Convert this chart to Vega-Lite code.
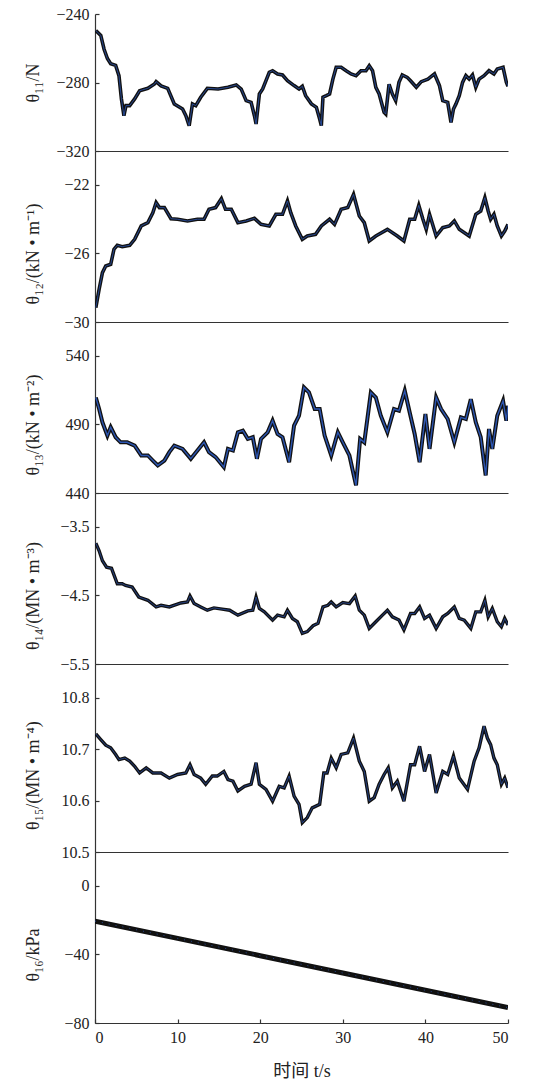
{
  "$schema": "https://vega.github.io/schema/vega-lite/v6.json",
  "padding": {"left": 24, "top": 6, "right": 5, "bottom": 0},
  "spacing": 0,
  "bounds": "flush",
  "config": {
    "font": "Liberation Serif",
    "view": {"stroke": null},
    "axis": {
      "labelFont": "Liberation Serif",
      "titleFont": "Liberation Serif, Noto Sans CJK SC",
      "labelFontSize": 16,
      "titleFontSize": 18,
      "titleFontWeight": "normal",
      "labelColor": "#222",
      "titleColor": "#222",
      "domainColor": "#333",
      "tickColor": "#333",
      "domainWidth": 1.2,
      "tickWidth": 1.2,
      "grid": false
    }
  },
  "datasets": {
    "p1": [{"t":0.1,"v":-249.7},{"t":0.7,"v":-252.5},{"t":1.1,"v":-260.6},{"t":1.5,"v":-266},{"t":1.9,"v":-269},{"t":2.5,"v":-270},{"t":2.9,"v":-276},{"t":3.2,"v":-289.6},{"t":3.5,"v":-299.4},{"t":3.75,"v":-293.5},{"t":4.2,"v":-293.5},{"t":4.8,"v":-289.6},{"t":5.4,"v":-284.8},{"t":6.4,"v":-283.4},{"t":7.2,"v":-280.9},{"t":7.4,"v":-279.5},{"t":8,"v":-282},{"t":8.8,"v":-283.4},{"t":9.6,"v":-292.5},{"t":10.6,"v":-295.5},{"t":11,"v":-299.4},{"t":11.4,"v":-305.2},{"t":11.8,"v":-292.5},{"t":12.2,"v":-293.5},{"t":12.8,"v":-288.6},{"t":13.6,"v":-283.4},{"t":14.9,"v":-283.8},{"t":16.1,"v":-282.8},{"t":17.1,"v":-281.4},{"t":17.7,"v":-283.8},{"t":18.3,"v":-290.6},{"t":18.9,"v":-291.6},{"t":19.3,"v":-299.4},{"t":19.5,"v":-304.2},{"t":19.9,"v":-286.7},{"t":20.3,"v":-283.8},{"t":20.7,"v":-278.9},{"t":21.1,"v":-274},{"t":21.5,"v":-273.1},{"t":22.1,"v":-275},{"t":22.7,"v":-275.6},{"t":23.3,"v":-278.9},{"t":24.1,"v":-281.8},{"t":24.7,"v":-283.8},{"t":25.1,"v":-282.2},{"t":25.5,"v":-287.7},{"t":26.2,"v":-292.5},{"t":26.8,"v":-294.5},{"t":27.2,"v":-301.3},{"t":27.4,"v":-305.2},{"t":27.6,"v":-288.6},{"t":28,"v":-287.7},{"t":28.4,"v":-286.7},{"t":28.8,"v":-278},{"t":29.2,"v":-271.1},{"t":29.8,"v":-271.1},{"t":30.4,"v":-273.1},{"t":31,"v":-275},{"t":31.6,"v":-276},{"t":32.2,"v":-273.1},{"t":32.8,"v":-273.1},{"t":33.2,"v":-270.2},{"t":33.6,"v":-273.1},{"t":34,"v":-282.8},{"t":34.4,"v":-286.7},{"t":35,"v":-297.4},{"t":35.2,"v":-298.4},{"t":35.6,"v":-281},{"t":36,"v":-286.7},{"t":36.4,"v":-290.6},{"t":36.8,"v":-279.9},{"t":37.2,"v":-275.6},{"t":37.8,"v":-277},{"t":38.2,"v":-279},{"t":38.9,"v":-282.8},{"t":39.5,"v":-279.5},{"t":40.3,"v":-278},{"t":41.1,"v":-275},{"t":41.7,"v":-281.8},{"t":42.1,"v":-290.6},{"t":42.7,"v":-291.6},{"t":43.1,"v":-303.3},{"t":43.4,"v":-295.5},{"t":43.7,"v":-292.5},{"t":44.1,"v":-287.7},{"t":44.5,"v":-279.9},{"t":44.9,"v":-276},{"t":45.3,"v":-278},{"t":45.7,"v":-275.6},{"t":46.1,"v":-282.8},{"t":46.5,"v":-278},{"t":47.1,"v":-276},{"t":47.7,"v":-273.1},{"t":48.3,"v":-275},{"t":48.7,"v":-272.1},{"t":49.4,"v":-271.1},{"t":49.8,"v":-279.9},{"t":50,"v":-282.2}],
    "p2": [{"t":0.1,"v":-29.16},{"t":0.5,"v":-28.09},{"t":0.9,"v":-27.12},{"t":1.3,"v":-26.73},{"t":1.9,"v":-26.63},{"t":2.3,"v":-25.75},{"t":2.7,"v":-25.52},{"t":3.3,"v":-25.6},{"t":4.2,"v":-25.52},{"t":4.8,"v":-25.17},{"t":5.6,"v":-24.39},{"t":6.4,"v":-24.2},{"t":7,"v":-23.62},{"t":7.4,"v":-23.03},{"t":7.8,"v":-23.32},{"t":8.4,"v":-23.32},{"t":9.2,"v":-23.97},{"t":10,"v":-24},{"t":11.2,"v":-24.1},{"t":12.4,"v":-24},{"t":13.2,"v":-24},{"t":13.8,"v":-23.42},{"t":14.6,"v":-23.32},{"t":15.3,"v":-22.8},{"t":15.8,"v":-23.42},{"t":16.5,"v":-23.42},{"t":17.3,"v":-24.2},{"t":18.3,"v":-24.1},{"t":19.3,"v":-23.95},{"t":20.1,"v":-24.3},{"t":21.1,"v":-24.39},{"t":21.9,"v":-23.71},{"t":22.7,"v":-23.71},{"t":23.3,"v":-22.93},{"t":23.7,"v":-23.62},{"t":24.3,"v":-24.39},{"t":25.1,"v":-25.17},{"t":25.7,"v":-24.98},{"t":26.7,"v":-24.88},{"t":27.4,"v":-24.39},{"t":28.4,"v":-24},{"t":29,"v":-24.3},{"t":29.8,"v":-23.42},{"t":30.6,"v":-23.32},{"t":31.3,"v":-22.55},{"t":32,"v":-23.81},{"t":32.6,"v":-24.2},{"t":33.2,"v":-25.27},{"t":34,"v":-24.98},{"t":35.4,"v":-24.59},{"t":36.6,"v":-24.98},{"t":37.4,"v":-25.27},{"t":38.1,"v":-24},{"t":38.7,"v":-24},{"t":39.2,"v":-23.19},{"t":39.7,"v":-24},{"t":40.1,"v":-24.59},{"t":40.5,"v":-23.71},{"t":41.3,"v":-24.98},{"t":42.1,"v":-24.49},{"t":42.9,"v":-24.39},{"t":43.5,"v":-24.1},{"t":44.1,"v":-24.59},{"t":45.3,"v":-24.98},{"t":46.1,"v":-23.71},{"t":46.7,"v":-23.52},{"t":47.2,"v":-22.74},{"t":47.6,"v":-23.52},{"t":47.9,"v":-24},{"t":48.3,"v":-23.71},{"t":48.7,"v":-24.39},{"t":49.2,"v":-24.98},{"t":49.6,"v":-24.69},{"t":50,"v":-24.3}],
    "p3": [{"t":0.1,"v":509.7},{"t":0.5,"v":501.3},{"t":0.9,"v":491.6},{"t":1.5,"v":481.9},{"t":1.9,"v":488},{"t":2.5,"v":480.7},{"t":3.1,"v":477},{"t":3.9,"v":477},{"t":4.8,"v":474.6},{"t":5.6,"v":467.4},{"t":6.4,"v":467.4},{"t":7,"v":463.7},{"t":7.6,"v":460.1},{"t":8.4,"v":463.7},{"t":9,"v":469.8},{"t":9.6,"v":474.6},{"t":10.6,"v":472.2},{"t":11.6,"v":465},{"t":12.4,"v":471},{"t":13.2,"v":477},{"t":13.8,"v":469.8},{"t":14.6,"v":466.2},{"t":15.6,"v":458.9},{"t":16.1,"v":472.2},{"t":16.7,"v":471},{"t":17.3,"v":484.3},{"t":17.9,"v":485.5},{"t":18.5,"v":479.5},{"t":19.1,"v":480.7},{"t":19.6,"v":465},{"t":20.1,"v":479.5},{"t":20.9,"v":484.3},{"t":21.5,"v":492.8},{"t":22.1,"v":483.1},{"t":22.7,"v":480.7},{"t":23.5,"v":462.5},{"t":24.1,"v":489.2},{"t":24.7,"v":496.4},{"t":25.3,"v":517},{"t":25.9,"v":513.4},{"t":26.6,"v":501.3},{"t":27.2,"v":501.3},{"t":27.8,"v":481.9},{"t":28.6,"v":467.4},{"t":29.4,"v":484.3},{"t":30,"v":477},{"t":30.8,"v":467.4},{"t":31.6,"v":445.6},{"t":32.1,"v":479.5},{"t":32.6,"v":477},{"t":33.4,"v":513.4},{"t":34,"v":509.7},{"t":34.6,"v":496.4},{"t":35.4,"v":484.3},{"t":36.2,"v":501.3},{"t":36.8,"v":500.1},{"t":37.5,"v":514.6},{"t":38.1,"v":498.8},{"t":38.7,"v":483.1},{"t":39.3,"v":462.5},{"t":40,"v":497.6},{"t":40.5,"v":472.2},{"t":41.3,"v":509.7},{"t":41.9,"v":501.3},{"t":42.7,"v":494},{"t":43.5,"v":477},{"t":44.3,"v":495.2},{"t":44.9,"v":494},{"t":45.5,"v":508.5},{"t":46.1,"v":491.6},{"t":46.7,"v":480.7},{"t":47.3,"v":452.8},{"t":47.7,"v":486.7},{"t":48.1,"v":472.2},{"t":48.7,"v":496.4},{"t":49.4,"v":507.3},{"t":49.8,"v":492.8},{"t":50,"v":503.7}],
    "p4": [{"t":0.1,"v":-3.736},{"t":0.5,"v":-3.847},{"t":0.9,"v":-3.992},{"t":1.4,"v":-4.088},{"t":2,"v":-4.103},{"t":2.7,"v":-4.329},{"t":3.3,"v":-4.329},{"t":3.7,"v":-4.353},{"t":4.5,"v":-4.377},{"t":5.3,"v":-4.522},{"t":6.4,"v":-4.57},{"t":7.4,"v":-4.667},{"t":8,"v":-4.643},{"t":9,"v":-4.667},{"t":10.4,"v":-4.609},{"t":11.2,"v":-4.594},{"t":11.5,"v":-4.507},{"t":12,"v":-4.618},{"t":12.8,"v":-4.667},{"t":13.6,"v":-4.715},{"t":14.4,"v":-4.681},{"t":15.4,"v":-4.7},{"t":16.3,"v":-4.715},{"t":17.3,"v":-4.787},{"t":18.5,"v":-4.724},{"t":19.1,"v":-4.715},{"t":19.5,"v":-4.522},{"t":19.9,"v":-4.69},{"t":20.5,"v":-4.739},{"t":21.5,"v":-4.859},{"t":22.1,"v":-4.787},{"t":22.9,"v":-4.811},{"t":23.3,"v":-4.715},{"t":23.9,"v":-4.835},{"t":24.5,"v":-4.883},{"t":25.1,"v":-5.052},{"t":25.7,"v":-5.027},{"t":26.4,"v":-4.941},{"t":27,"v":-4.907},{"t":27.6,"v":-4.667},{"t":28.2,"v":-4.643},{"t":28.6,"v":-4.594},{"t":29.2,"v":-4.667},{"t":30,"v":-4.604},{"t":30.8,"v":-4.618},{"t":31.5,"v":-4.507},{"t":32,"v":-4.715},{"t":32.6,"v":-4.787},{"t":33.2,"v":-4.98},{"t":34,"v":-4.883},{"t":34.8,"v":-4.787},{"t":35.4,"v":-4.715},{"t":36,"v":-4.811},{"t":36.8,"v":-4.859},{"t":37.4,"v":-5.003},{"t":38.2,"v":-4.763},{"t":38.7,"v":-4.763},{"t":39.3,"v":-4.667},{"t":39.9,"v":-4.835},{"t":40.5,"v":-4.787},{"t":41.3,"v":-4.98},{"t":42.1,"v":-4.811},{"t":42.7,"v":-4.763},{"t":43.5,"v":-4.667},{"t":44.1,"v":-4.835},{"t":44.7,"v":-4.859},{"t":45.5,"v":-4.98},{"t":46.1,"v":-4.739},{"t":46.7,"v":-4.739},{"t":47.2,"v":-4.57},{"t":47.6,"v":-4.811},{"t":48.1,"v":-4.69},{"t":48.7,"v":-4.883},{"t":49.2,"v":-4.956},{"t":49.6,"v":-4.835},{"t":50,"v":-4.931}],
    "p5": [{"t":0.1,"v":10.73},{"t":0.7,"v":10.719},{"t":1.3,"v":10.708},{"t":1.9,"v":10.703},{"t":2.5,"v":10.69},{"t":2.9,"v":10.68},{"t":3.6,"v":10.683},{"t":4.2,"v":10.677},{"t":4.8,"v":10.667},{"t":5.4,"v":10.654},{"t":6.2,"v":10.664},{"t":7,"v":10.654},{"t":8,"v":10.654},{"t":9,"v":10.644},{"t":10,"v":10.651},{"t":11,"v":10.654},{"t":11.5,"v":10.67},{"t":12,"v":10.651},{"t":12.8,"v":10.644},{"t":13.4,"v":10.632},{"t":14.2,"v":10.648},{"t":14.8,"v":10.648},{"t":15.6,"v":10.657},{"t":16.1,"v":10.641},{"t":16.7,"v":10.638},{"t":17.3,"v":10.619},{"t":18.1,"v":10.628},{"t":18.9,"v":10.632},{"t":19.5,"v":10.674},{"t":19.9,"v":10.632},{"t":20.7,"v":10.622},{"t":21.5,"v":10.599},{"t":22.3,"v":10.628},{"t":22.9,"v":10.625},{"t":23.5,"v":10.648},{"t":24.1,"v":10.609},{"t":24.7,"v":10.593},{"t":25.1,"v":10.557},{"t":25.7,"v":10.567},{"t":26.3,"v":10.586},{"t":27.2,"v":10.593},{"t":27.7,"v":10.654},{"t":28.1,"v":10.654},{"t":28.6,"v":10.683},{"t":29.2,"v":10.664},{"t":29.8,"v":10.69},{"t":30.6,"v":10.693},{"t":31.3,"v":10.722},{"t":32,"v":10.677},{"t":32.6,"v":10.657},{"t":33.2,"v":10.599},{"t":33.8,"v":10.606},{"t":34.4,"v":10.632},{"t":35,"v":10.651},{"t":35.5,"v":10.664},{"t":36,"v":10.625},{"t":36.6,"v":10.638},{"t":37.4,"v":10.599},{"t":38.2,"v":10.67},{"t":38.7,"v":10.67},{"t":39.3,"v":10.706},{"t":39.9,"v":10.657},{"t":40.5,"v":10.69},{"t":41.3,"v":10.615},{"t":42.1,"v":10.657},{"t":42.7,"v":10.651},{"t":43.4,"v":10.687},{"t":44.1,"v":10.644},{"t":45.1,"v":10.622},{"t":45.9,"v":10.677},{"t":46.5,"v":10.703},{"t":47.1,"v":10.745},{"t":47.5,"v":10.722},{"t":47.9,"v":10.709},{"t":48.3,"v":10.683},{"t":48.7,"v":10.67},{"t":49.2,"v":10.632},{"t":49.6,"v":10.644},{"t":50,"v":10.625}],
    "p6": [{"t":0,"v":-20.5},{"t":10,"v":-30.6},{"t":20,"v":-40.7},{"t":30,"v":-50.8},{"t":40,"v":-60.9},{"t":50,"v":-71}]
  },
  "vconcat": [
    {
      "width": 413, "height": 137,
      "data": {"name": "p1"},
      "encoding": {
        "x": {"field": "t", "type": "quantitative", "scale": {"domain": [0, 50], "nice": false},
              "axis": {"labels": false, "ticks": false, "title": null}},
        "y": {"field": "v", "type": "quantitative", "scale": {"domain": [-320, -240], "nice": false, "zero": false},
              "axis": {"values": [-320, -280, -240], "format": "d", "title": "θ₁₁/N", "titleX": -57, "titleY": 68.5, "titleAngle": 270, "titleAlign": "center", "titleBaseline": "alphabetic", "tickSize": -4, "labelPadding": 10}}
      },
      "layer": [
        {"mark": {"type": "line", "color": "#111", "strokeWidth": 3.6, "clip": true}},
        {"mark": {"type": "line", "color": "#2c55b0", "strokeWidth": 0.8, "clip": true}}
      ]
    },
    {
      "width": 413, "height": 171,
      "data": {"name": "p2"},
      "encoding": {
        "x": {"field": "t", "type": "quantitative", "scale": {"domain": [0, 50], "nice": false},
              "axis": {"labels": false, "ticks": false, "title": null}},
        "y": {"field": "v", "type": "quantitative", "scale": {"domain": [-30, -20.015], "nice": false, "zero": false},
              "axis": {"values": [-30, -26, -22], "format": "d", "title": "θ₁₂/(kN • m⁻¹)", "titleX": -57, "titleY": 102.5, "titleAngle": 270, "titleAlign": "center", "titleBaseline": "alphabetic", "tickSize": -4, "labelPadding": 10}}
      },
      "layer": [
        {"mark": {"type": "line", "color": "#111", "strokeWidth": 3.6, "clip": true}},
        {"mark": {"type": "line", "color": "#2c55b0", "strokeWidth": 0.8, "clip": true}}
      ]
    },
    {
      "width": 413, "height": 171,
      "data": {"name": "p3"},
      "encoding": {
        "x": {"field": "t", "type": "quantitative", "scale": {"domain": [0, 50], "nice": false},
              "axis": {"labels": false, "ticks": false, "title": null}},
        "y": {"field": "v", "type": "quantitative", "scale": {"domain": [440, 564.8], "nice": false, "zero": false},
              "axis": {"values": [440, 490, 540], "format": "d", "title": "θ₁₃/(kN • m⁻²)", "titleX": -57, "titleY": 102.5, "titleAngle": 270, "titleAlign": "center", "titleBaseline": "alphabetic", "tickSize": -4, "labelPadding": 10}}
      },
      "layer": [
        {"mark": {"type": "line", "color": "#111", "strokeWidth": 4, "clip": true}},
        {"mark": {"type": "line", "color": "#2c55b0", "strokeWidth": 1.4, "clip": true}}
      ]
    },
    {
      "width": 413, "height": 171,
      "data": {"name": "p4"},
      "encoding": {
        "x": {"field": "t", "type": "quantitative", "scale": {"domain": [0, 50], "nice": false},
              "axis": {"labels": false, "ticks": false, "title": null}},
        "y": {"field": "v", "type": "quantitative", "scale": {"domain": [-5.5, -3.004], "nice": false, "zero": false},
              "axis": {"values": [-5.5, -4.5, -3.5], "format": ".1f", "title": "θ₁₄/(MN • m⁻³)", "titleX": -57, "titleY": 102.5, "titleAngle": 270, "titleAlign": "center", "titleBaseline": "alphabetic", "tickSize": -4, "labelPadding": 10}}
      },
      "layer": [
        {"mark": {"type": "line", "color": "#111", "strokeWidth": 3.4, "clip": true}},
        {"mark": {"type": "line", "color": "#2c55b0", "strokeWidth": 0.7, "clip": true}}
      ]
    },
    {
      "width": 413, "height": 188,
      "data": {"name": "p5"},
      "encoding": {
        "x": {"field": "t", "type": "quantitative", "scale": {"domain": [0, 50], "nice": false},
              "axis": {"labels": false, "ticks": false, "title": null}},
        "y": {"field": "v", "type": "quantitative", "scale": {"domain": [10.5, 10.8662], "nice": false, "zero": false},
              "axis": {"values": [10.5, 10.6, 10.7, 10.8], "format": ".1f", "title": "θ₁₅/(MN • m⁻⁴)", "titleX": -57, "titleY": 111, "titleAngle": 270, "titleAlign": "center", "titleBaseline": "alphabetic", "tickSize": -4, "labelPadding": 10}}
      },
      "layer": [
        {"mark": {"type": "line", "color": "#111", "strokeWidth": 3.4, "clip": true}},
        {"mark": {"type": "line", "color": "#2c55b0", "strokeWidth": 0.7, "clip": true}}
      ]
    },
    {
      "width": 413, "height": 171,
      "data": {"name": "p6"},
      "encoding": {
        "x": {"field": "t", "type": "quantitative", "scale": {"domain": [0, 50], "nice": false},
              "axis": {"values": [0, 10, 20, 30, 40, 50], "format": "d", "tickSize": -4, "labelPadding": 10, "title": "时间 t/s", "titlePadding": 17}},
        "y": {"field": "v", "type": "quantitative", "scale": {"domain": [-80, 19.85], "nice": false, "zero": false},
              "axis": {"values": [-80, -40, 0], "format": "d", "title": "θ₁₆/kPa", "titleX": -57, "titleY": 102.5, "titleAngle": 270, "titleAlign": "center", "titleBaseline": "alphabetic", "tickSize": -4, "labelPadding": 10}}
      },
      "layer": [
        {"mark": {"type": "line", "color": "#111", "strokeWidth": 5, "clip": true}},
        {"mark": {"type": "line", "color": "#2c55b0", "strokeWidth": 0.8, "strokeDash": [1, 6], "clip": true}}
      ]
    }
  ]
}
